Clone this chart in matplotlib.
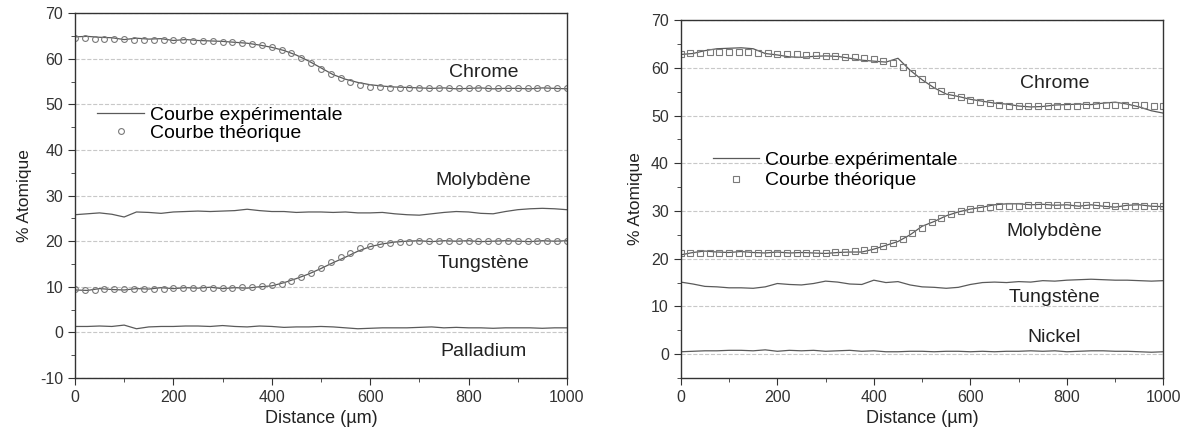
import matplotlib
matplotlib.use('Agg')
import matplotlib.pyplot as plt
import matplotlib.ticker as plticker

plt.rcParams['font.family'] = ['Liberation Sans', 'DejaVu Sans']
plt.rcParams['axes.unicode_minus'] = False

# sample positions (µm)
dist_exp = list(range(0, 1001, 25))
dist_theo = list(range(0, 1001, 20))

# ---- left sample: Cr / Mo / W / Pd ----
cr_exp_L = [64.8, 64.9, 64.7, 64.6, 64.2, 64.5, 64.3, 64.4, 64.0, 64.2, 64.0, 63.9, 63.8, 63.6,
            63.4, 63.0, 62.5, 61.8, 60.8, 59.5, 58.0, 56.5, 55.5, 54.8, 54.3, 54.0, 53.8, 53.7,
            53.6, 53.5, 53.6, 53.4, 53.5, 53.6, 53.4, 53.5, 53.5, 53.4, 53.6, 53.5, 53.4]
cr_theo_L = [64.5, 64.5, 64.4, 64.4, 64.3, 64.3, 64.2, 64.2, 64.1, 64.1, 64.0, 64.0, 63.9, 63.9,
             63.8, 63.7, 63.6, 63.5, 63.3, 63.0, 62.6, 62.0, 61.2, 60.2, 59.0, 57.8, 56.7, 55.7,
             54.9, 54.3, 53.9, 53.7, 53.6, 53.5, 53.5, 53.5, 53.5, 53.5, 53.5, 53.5, 53.5, 53.5,
             53.5, 53.5, 53.5, 53.5, 53.5, 53.5, 53.5, 53.5, 53.5]
mo_exp_L = [25.8, 26.0, 26.2, 25.9, 25.3, 26.4, 26.3, 26.1, 26.4, 26.5, 26.6, 26.5, 26.6, 26.7,
            27.0, 26.7, 26.5, 26.5, 26.3, 26.4, 26.4, 26.3, 26.4, 26.2, 26.2, 26.3, 26.0, 25.8,
            25.7, 26.0, 26.3, 26.5, 26.4, 26.1, 26.0, 26.5, 26.9, 27.1, 27.2, 27.1, 26.9]
w_exp_L = [9.3, 9.2, 9.6, 9.4, 9.3, 9.6, 9.5, 9.8, 9.6, 9.8, 9.7, 9.9, 9.6, 9.8, 9.7, 10.0, 10.2,
           10.9, 11.8, 12.8, 14.0, 15.3, 16.5, 17.8, 18.8, 19.4, 19.8, 20.0, 20.1, 19.9, 20.1,
           20.0, 20.1, 19.9, 20.0, 20.1, 20.0, 19.9, 20.1, 20.0, 20.1]
w_theo_L = [9.5, 9.4, 9.4, 9.5, 9.5, 9.5, 9.6, 9.6, 9.6, 9.6, 9.7, 9.7, 9.7, 9.7, 9.8, 9.8, 9.8,
            9.9, 10.0, 10.1, 10.3, 10.7, 11.3, 12.1, 13.1, 14.2, 15.4, 16.5, 17.5, 18.4, 19.0,
            19.4, 19.7, 19.8, 19.9, 20.0, 20.0, 20.0, 20.0, 20.0, 20.0, 20.0, 20.0, 20.0, 20.0,
            20.0, 20.0, 20.0, 20.0, 20.0, 20.0]
pd_exp_L = [1.3, 1.3, 1.4, 1.3, 1.6, 0.8, 1.2, 1.3, 1.3, 1.4, 1.4, 1.3, 1.5, 1.3, 1.2, 1.4, 1.3,
            1.1, 1.2, 1.2, 1.3, 1.2, 1.0, 0.8, 0.9, 1.0, 1.0, 1.0, 1.1, 1.2, 1.0, 1.1, 1.0, 1.0,
            0.9, 1.0, 1.0, 1.0, 0.9, 1.0, 1.0]

# ---- right sample: Cr / Mo / W / Ni ----
cr_exp_R = [62.8, 63.0, 63.6, 64.0, 64.1, 64.2, 64.0, 63.0, 62.7, 62.3, 62.2, 62.4, 62.5, 62.4,
            62.0, 61.6, 61.4, 61.2, 62.0, 59.5, 57.5, 55.8, 54.5, 54.0, 53.4, 53.0, 52.6, 52.4,
            52.0, 51.8, 51.9, 52.2, 52.3, 52.4, 52.3, 52.6, 52.8, 52.4, 51.8, 51.0, 50.5]
cr_theo_R = [63.0, 63.1, 63.2, 63.3, 63.4, 63.4, 63.4, 63.3, 63.2, 63.1, 63.0, 62.9, 62.8, 62.7,
             62.6, 62.5, 62.4, 62.3, 62.2, 62.0, 61.8, 61.5, 61.0, 60.2, 59.0, 57.6, 56.3, 55.2,
             54.4, 53.8, 53.3, 52.9, 52.6, 52.3, 52.1, 52.0, 51.9, 51.9, 52.0, 52.0, 52.1, 52.1,
             52.2, 52.2, 52.3, 52.3, 52.3, 52.2, 52.2, 52.1, 51.9]
mo_exp_R = [20.8, 21.3, 21.6, 21.4, 21.3, 21.5, 21.3, 21.2, 21.4, 21.2, 21.3, 21.2, 21.1, 21.3,
            21.4, 21.4, 22.0, 22.8, 23.6, 25.0, 26.8, 27.8, 29.0, 29.8, 30.4, 30.8, 31.3, 31.5,
            31.5, 31.3, 31.4, 31.2, 31.3, 31.0, 31.3, 31.0, 30.8, 31.2, 31.3, 31.0, 30.9]
mo_theo_R = [21.2, 21.2, 21.2, 21.2, 21.2, 21.2, 21.2, 21.2, 21.2, 21.2, 21.2, 21.2, 21.2, 21.3,
             21.3, 21.3, 21.4, 21.5, 21.6, 21.8, 22.1, 22.6, 23.3, 24.2, 25.3, 26.5, 27.6, 28.6,
             29.4, 30.0, 30.4, 30.7, 30.9, 31.0, 31.1, 31.1, 31.2, 31.2, 31.2, 31.2, 31.2, 31.2,
             31.2, 31.2, 31.2, 31.1, 31.1, 31.1, 31.1, 31.0, 31.0]
w_exp_R = [15.1, 14.7, 14.2, 14.1, 13.9, 13.9, 13.8, 14.1, 14.8, 14.6, 14.5, 14.8, 15.3, 15.1,
           14.7, 14.6, 15.5, 15.0, 15.2, 14.5, 14.1, 14.0, 13.8, 14.0, 14.6, 15.0, 15.1, 15.0,
           15.2, 15.1, 15.4, 15.3, 15.5, 15.6, 15.7, 15.6, 15.5, 15.5, 15.4, 15.3, 15.4]
ni_exp_R = [0.5, 0.6, 0.7, 0.7, 0.8, 0.8, 0.7, 0.9, 0.6, 0.8, 0.7, 0.8, 0.6, 0.7, 0.8, 0.6, 0.7,
            0.5, 0.5, 0.6, 0.6, 0.5, 0.6, 0.6, 0.5, 0.6, 0.5, 0.6, 0.6, 0.7, 0.6, 0.7, 0.5, 0.6,
            0.7, 0.7, 0.6, 0.6, 0.5, 0.4, 0.5]

labels_L = ['Chrome', 'Molybdène', 'Tungstène', 'Palladium']
label_y_L = [57, 33.4, 15.2, -4.1]
labels_R = ['Chrome', 'Molybdène', 'Tungstène', 'Nickel']
label_y_R = [56.8, 25.6, 11.9, 3.5]

exp_color = '#5a5a5a'
theo_color = '#7a7a7a'


def style_axes(ax, ylo, yhi):
    ax.set_xlim(0, 1000)
    ax.set_ylim(ylo, yhi)
    ax.xaxis.set_major_locator(plticker.MultipleLocator(200))
    ax.xaxis.set_minor_locator(plticker.MultipleLocator(100))
    ax.yaxis.set_major_locator(plticker.MultipleLocator(10))
    ax.yaxis.set_minor_locator(plticker.MultipleLocator(5))
    ax.tick_params(which='both', direction='out', colors='#333333', labelsize=11.5)
    ax.tick_params(which='major', length=5)
    ax.tick_params(which='minor', length=3)
    ax.grid(which='major', axis='y', color='#c8c8c8', linestyle='--', linewidth=0.8)
    ax.set_axisbelow(True)
    for s in ax.spines.values():
        s.set_color('#333333')
        s.set_linewidth(1.0)
    ax.set_xlabel('Distance (µm)', fontsize=13, color='#222222', labelpad=4)
    ax.set_ylabel('% Atomique', fontsize=12.5, color='#222222', labelpad=6)


fig = plt.figure(figsize=(11.86, 4.37), dpi=100)
axL = fig.add_axes([0.0632, 0.135, 0.4148, 0.835])
axR = fig.add_axes([0.574, 0.135, 0.407, 0.819])

# left panel
axL.plot(dist_exp, cr_exp_L, color=exp_color, lw=0.9, label='Courbe expérimentale')
axL.plot(dist_theo, cr_theo_L, 'o', ms=4.2, mfc='none', mec=theo_color, mew=0.8,
         label='Courbe théorique')
axL.plot(dist_exp, mo_exp_L, color=exp_color, lw=0.9)
axL.plot(dist_exp, w_exp_L, color=exp_color, lw=0.9)
axL.plot(dist_theo, w_theo_L, 'o', ms=4.2, mfc='none', mec=theo_color, mew=0.8)
axL.plot(dist_exp, pd_exp_L, color=exp_color, lw=0.9)
style_axes(axL, -10, 70)
for name, yy in zip(labels_L, label_y_L):
    axL.text(830, yy, name, fontsize=14, ha='center', va='center', color='#222222')
axL.legend(loc='upper left', bbox_to_anchor=(0.03, 0.765), frameon=False, fontsize=14,
           handlelength=2.4, handletextpad=0.3, labelspacing=0.0, numpoints=1,
           borderaxespad=0)

# right panel
axR.plot(dist_exp, cr_exp_R, color=exp_color, lw=0.9, label='Courbe expérimentale')
axR.plot(dist_theo, cr_theo_R, 's', ms=3.8, mfc='none', mec=theo_color, mew=0.8,
         label='Courbe théorique')
axR.plot(dist_exp, mo_exp_R, color=exp_color, lw=0.9)
axR.plot(dist_theo, mo_theo_R, 's', ms=3.8, mfc='none', mec=theo_color, mew=0.8)
axR.plot(dist_exp, w_exp_R, color=exp_color, lw=0.9)
axR.plot(dist_exp, ni_exp_R, color=exp_color, lw=0.9)
style_axes(axR, -5, 70)
for name, yy in zip(labels_R, label_y_R):
    axR.text(774, yy, name, fontsize=14, ha='center', va='center', color='#222222')
axR.legend(loc='upper left', bbox_to_anchor=(0.05, 0.655), frameon=False, fontsize=14,
           handlelength=2.4, handletextpad=0.3, labelspacing=0.15, numpoints=1,
           borderaxespad=0)

fig.savefig('out.png', dpi=100)
